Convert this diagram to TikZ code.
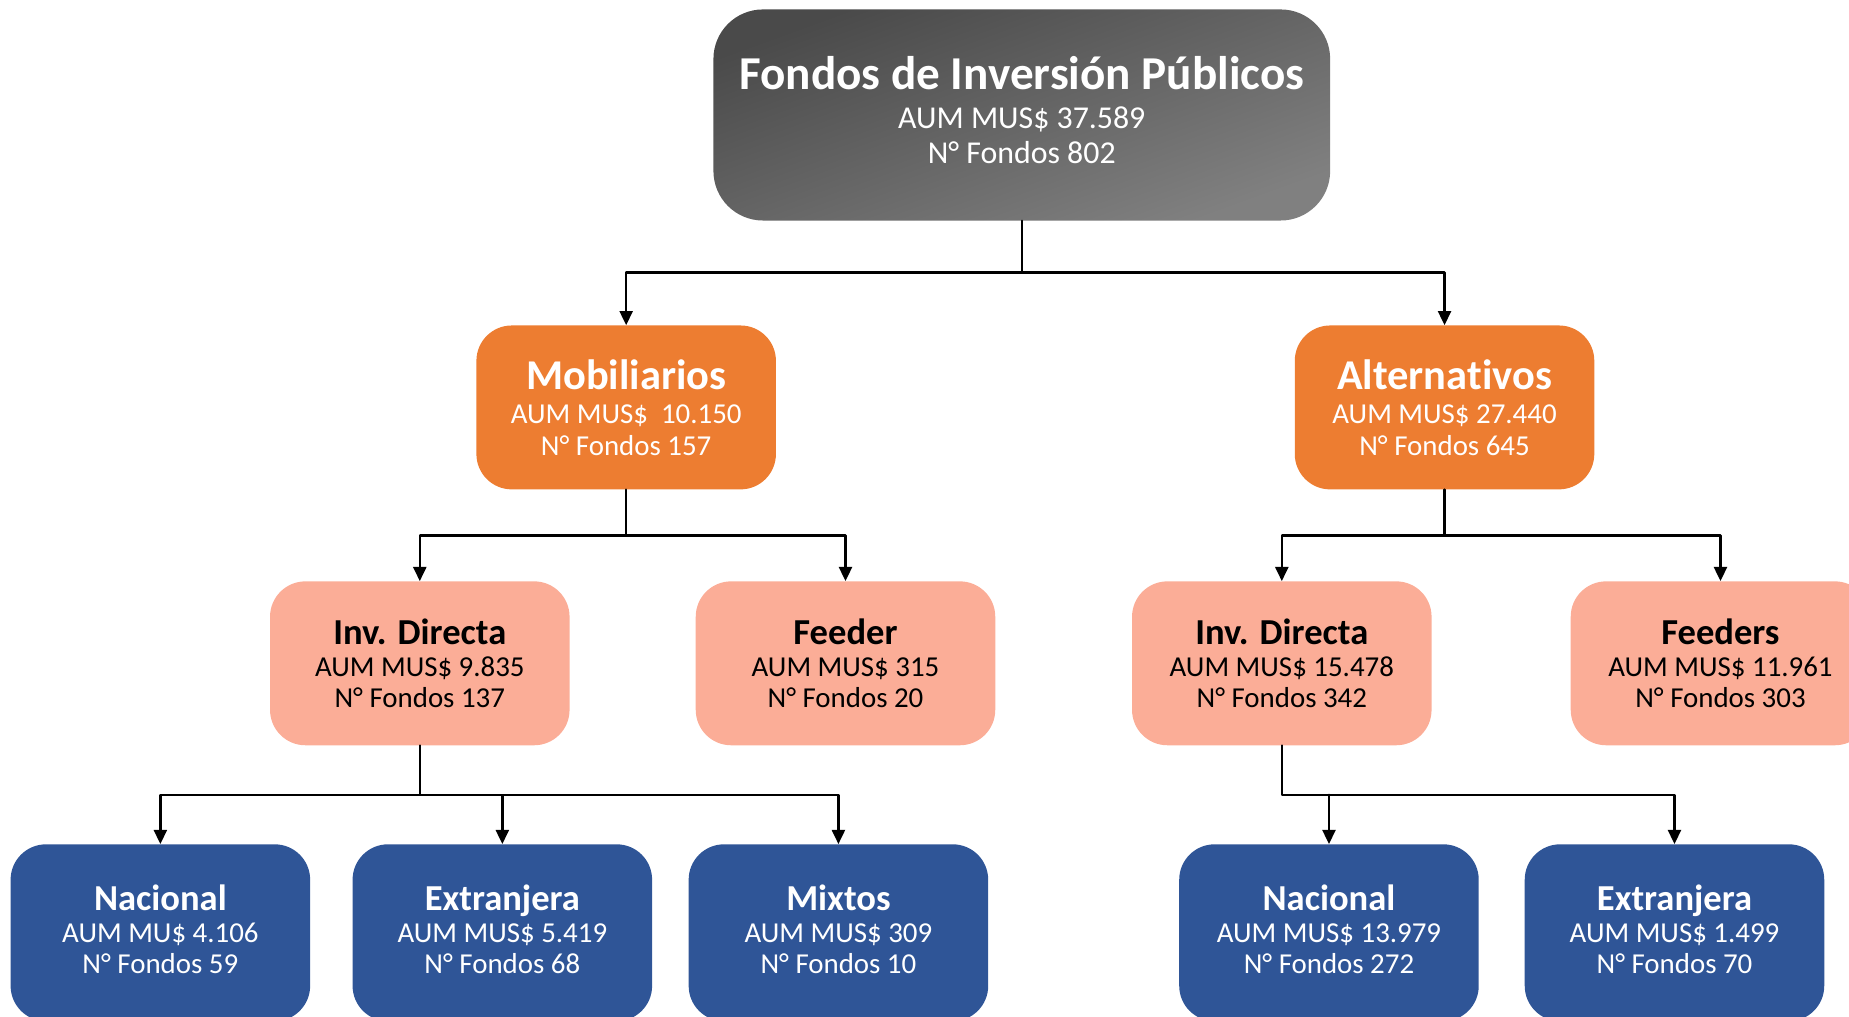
\documentclass[tikz,border=0pt]{standalone}
\usepackage{fontspec}
\setmainfont{Carlito}[Ligatures=NoCommon]
\usetikzlibrary{arrows.meta}
\definecolor{gristop}{HTML}{4A4A4A}
\definecolor{grisbot}{HTML}{808080}
\definecolor{naranja}{HTML}{ED7D31}
\definecolor{salmon}{HTML}{FBAD97}
\definecolor{azul}{HTML}{2F5597}
\newcommand{\ttl}[2]{{\bfseries\fontsize{#1}{#1}\selectfont #2}}
\newcommand{\sube}[1]{\rule[-#1]{0pt}{0pt}}
\begin{document}
\begin{tikzpicture}[x=1pt,y=-1pt,line cap=round,line join=round,>={Triangle[length=12pt,width=11pt]},
  caja/.style={rounded corners=30pt,minimum width=254pt,minimum height=139pt,align=center,inner sep=0pt},
  raiz/.style={caja,rounded corners=42pt,minimum width=523pt,minimum height=179pt,top color=gristop,bottom color=grisbot,shading angle=20,text=white,font=\fontsize{27}{30}\selectfont},
  cat/.style={caja,fill=naranja,text=white,font=\fontsize{24.5}{27}\selectfont},
  sub/.style={caja,fill=salmon,text=black,font=\fontsize{24.5}{27}\selectfont},
  hoja/.style={caja,minimum height=150pt,fill=azul,text=white,font=\fontsize{24.5}{27}\selectfont},
  con/.style={line width=2pt,->}]
\useasboundingbox (0,0) rectangle (1568,861.6);
\clip (0,0) rectangle (1568,861.6);
% cajas
\node[raiz] (top) at (866.5,97.5) {\ttl{40}{Fondos de Inversión Públicos}\\[3pt]AUM MUS\$ 37.589\\N° Fondos 802\sube{8pt}};
\node[cat] (mob) at (531,345.5) {\ttl{36}{Mobiliarios}\\[2pt]AUM MUS\$~ 10.150\\N° Fondos 157};
\node[cat] (alt) at (1225,345.5) {\ttl{36}{Alternativos}\\[2pt]AUM MUS\$ 27.440\\N° Fondos 645};
\node[sub] (invl) at (356,562.5) {\ttl{31}{Inv. Directa}\\AUM MUS\$ 9.835\\N° Fondos 137};
\node[sub] (feed) at (717,562.5) {\ttl{31}{Feeder}\\AUM MUS\$ 315\\N° Fondos 20};
\node[sub] (invr) at (1087,562.5) {\ttl{31}{Inv. Directa}\\AUM MUS\$ 15.478\\N° Fondos 342};
\node[sub] (feeds) at (1459,562.5) {\ttl{31}{Feeders}\\AUM MUS\$ 11.961\\N° Fondos 303};
\node[hoja] (nacl) at (136,791) {\ttl{31}{Nacional}\\AUM MU\$ 4.106\\N° Fondos 59\sube{6pt}};
\node[hoja] (extl) at (426,791) {\ttl{31}{Extranjera}\\AUM MUS\$ 5.419\\N° Fondos 68\sube{6pt}};
\node[hoja] (mix) at (711,791) {\ttl{31}{Mixtos}\\AUM MUS\$ 309\\N° Fondos 10\sube{6pt}};
\node[hoja] (nacr) at (1127,791) {\ttl{31}{Nacional}\\AUM MUS\$ 13.979\\N° Fondos 272\sube{6pt}};
\node[hoja] (extr) at (1420,791) {\ttl{31}{Extranjera}\\AUM MUS\$ 1.499\\N° Fondos 70\sube{6pt}};
% uniones
\coordinate (j1) at (866.5,231);
\coordinate (j2) at (531,454);
\coordinate (j3) at (1225,454);
\coordinate (j4) at (356,674);
\coordinate (j5) at (1087,674);
\draw[con] (top.south) -- (j1) -| (mob.north);
\draw[con] (j1) -| (alt.north);
\draw[con] (mob.south) -- (j2) -| (invl.north);
\draw[con] (j2) -| (feed.north);
\draw[con] (alt.south) -- (j3) -| (invr.north);
\draw[con] (j3) -| (feeds.north);
\draw[con] (invl.south) -- (j4) -| (nacl.north);
\draw[con] (j4) -| (extl.north);
\draw[con] (j4) -| (mix.north);
\draw[con] (invr.south) -- (j5) -| (extr.north);
\draw[con] (j5 -| nacr.north) -- (nacr.north);
\end{tikzpicture}
\end{document}
